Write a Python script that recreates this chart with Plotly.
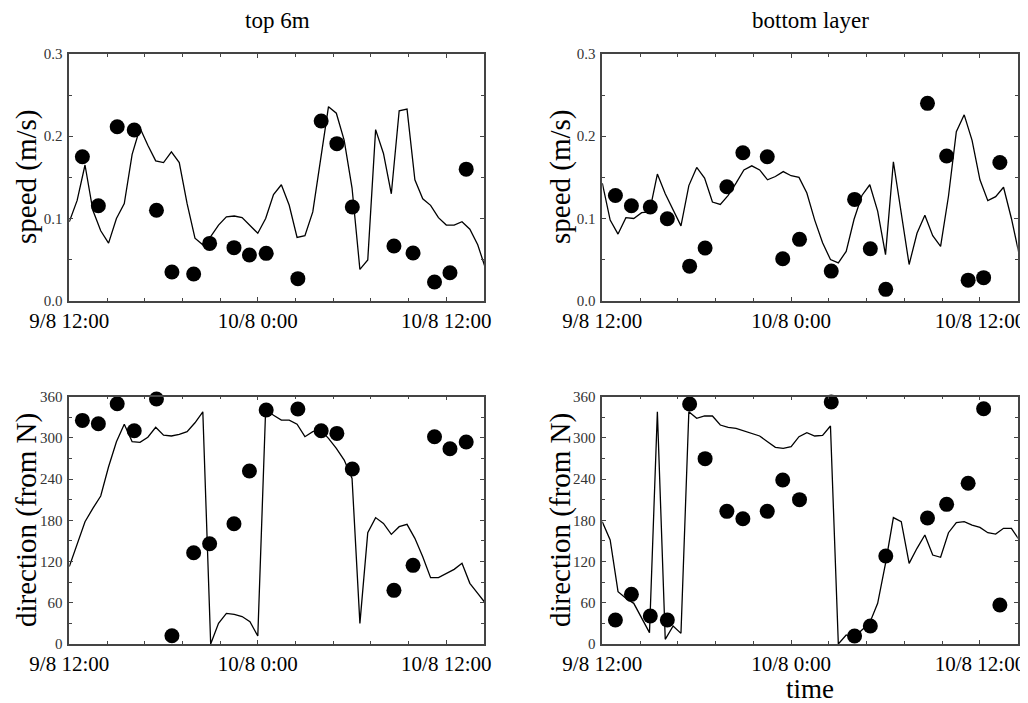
import pandas as pd
import plotly.graph_objects as go

# ---------------- data ----------------
# continuous record (30-min samples starting 9/8 12:00)
line_time = pd.date_range("2004-08-09 12:00", periods=54, freq="30min")

top_speed_line = [0.096, 0.122, 0.165, 0.110, 0.085, 0.070, 0.100, 0.118, 0.178, 0.210,
                  0.189, 0.170, 0.168, 0.181, 0.168, 0.118, 0.076, 0.068, 0.078, 0.092,
                  0.102, 0.103, 0.101, 0.092, 0.082, 0.100, 0.129, 0.141, 0.116, 0.077,
                  0.079, 0.108, 0.171, 0.236, 0.228, 0.195, 0.137, 0.038, 0.0495, 0.208,
                  0.179, 0.130, 0.231, 0.233, 0.147, 0.124, 0.116, 0.101, 0.092, 0.092,
                  0.096, 0.087, 0.068, 0.039]

bot_speed_line = [0.143, 0.098, 0.081, 0.101, 0.100, 0.107, 0.108, 0.154, 0.130, 0.111,
                  0.091, 0.140, 0.162, 0.149, 0.120, 0.117, 0.128, 0.143, 0.159, 0.164,
                  0.159, 0.147, 0.151, 0.157, 0.152, 0.150, 0.131, 0.098, 0.0705, 0.050,
                  0.046, 0.060, 0.099, 0.128, 0.141, 0.109, 0.056, 0.169, 0.106, 0.044,
                  0.082, 0.104, 0.079, 0.066, 0.127, 0.2055, 0.226, 0.195, 0.147, 0.1216,
                  0.1265, 0.138, 0.100, 0.0555]

top_dir_line = [112.6, 146.5, 178, 197.5, 215.4, 258, 294.5, 320, 294.5, 293.5,
                301, 315.4, 304, 302.8, 305, 309, 322, 338, 0, 30,
                44.6, 43, 40, 32.5, 11.6, 341.6, 333, 326, 326, 320,
                301.8, 309, 311.5, 299.4, 284.8, 267.8, 241, 30, 162, 184,
                175.6, 159.6, 170.8, 174.2, 153.8, 127, 96.6, 96.6, 103, 108.7,
                117.4, 88.3, 73.7, 59.2]

bot_dir_line = [178, 151.4, 76.2, 66.5, 59.2, 37.4, 16.5, 338.2, 6.8, 26.2,
                15.5, 338.2, 328.5, 331.9, 331.9, 318.8, 315.4, 314, 310.5, 306.6,
                302.8, 294.5, 286.3, 284.8, 287.2, 301.8, 307.6, 302.8, 303.7, 317.3,
                0, 13.1, 9.7, 20.4, 31, 59.2, 117.4, 184, 178, 117.4,
                139.3, 158.7, 129.5, 126.2, 162, 176.6, 178, 173.2, 169.8, 162,
                160, 168.4, 168.4, 151.4]

# discrete observations
obs_time = ["2004-08-09 12:50", "2004-08-09 13:51", "2004-08-09 15:03", "2004-08-09 16:08",
            "2004-08-09 17:33", "2004-08-09 18:32", "2004-08-09 19:55", "2004-08-09 20:56",
            "2004-08-09 22:29", "2004-08-09 23:28", "2004-08-10 00:32", "2004-08-10 02:33",
            "2004-08-10 04:02", "2004-08-10 05:02", "2004-08-10 06:01", "2004-08-10 08:40",
            "2004-08-10 09:53", "2004-08-10 11:15", "2004-08-10 12:14", "2004-08-10 13:16"]

top_speed_obs = [0.175, 0.1155, 0.2116, 0.2075, 0.110, 0.0349, 0.0324, 0.0697, 0.0645, 0.0555,
                 0.0576, 0.0268, 0.2185, 0.191, 0.114, 0.0665, 0.058, 0.0227, 0.034, 0.160]
bot_speed_obs = [0.128, 0.1155, 0.114, 0.0997, 0.042, 0.064, 0.1386, 0.180, 0.175, 0.051,
                 0.0746, 0.036, 0.1232, 0.0632, 0.0138, 0.240, 0.176, 0.025, 0.028, 0.168]
top_dir_obs = [325.5, 320.7, 349.8, 310.5, 356.6, 12.1, 132.9, 146.0, 175.1, 251.8,
               340.6, 342.0, 310.5, 306.6, 254.7, 78.1, 114.5, 301.8, 284.3, 294.0]
bot_dir_obs = [34.9, 72.3, 40.8, 34.9, 349.3, 269.8, 193.1, 182.4, 193.1, 238.7,
               210.1, 352.2, 11.6, 26.2, 128.1, 183.4, 203.3, 233.9, 342.5, 56.8]

x_tickvals = ["2004-08-09 12:00", "2004-08-10 00:00", "2004-08-10 12:00"]
x_ticktext = ["9/8 12:00", "10/8 0:00", "10/8 12:00"]
x_range = ["2004-08-09 12:00", "2004-08-10 14:24"]

speed_ticks = [0, 0.1, 0.2, 0.3]
speed_ticktext = ["0.0", "0.1", "0.2", "0.3"]
dir_ticks = [0, 60, 120, 180, 240, 300, 360]

col_titles = ["top 6m", "bottom layer"]

# ---------------- figure ----------------
OFF = 8                      # page body margin
W, H = 1028 - OFF, 703 - OFF
SERIF = "Liberation Serif, Times New Roman, serif"
AX = "#444444"


def px(x):
    return (x - OFF) / W


def py(y):
    return 1 - (y - OFF) / H


fig = go.Figure()

panels = [
    ("x", "y", top_speed_line, top_speed_obs),
    ("x2", "y2", bot_speed_line, bot_speed_obs),
    ("x3", "y3", top_dir_line, top_dir_obs),
    ("x4", "y4", bot_dir_line, bot_dir_obs),
]
for xa, ya, ln, ob in panels:
    fig.add_trace(go.Scatter(x=line_time, y=ln, mode="lines",
                             line=dict(color="black", width=1.3),
                             xaxis=xa, yaxis=ya, showlegend=False, cliponaxis=True))
    fig.add_trace(go.Scatter(x=obs_time, y=ob, mode="markers",
                             marker=dict(color="black", size=15, line=dict(width=0)),
                             xaxis=xa, yaxis=ya, showlegend=False, cliponaxis=False))

xdom_l = [px(69.3), px(484)]
xdom_r = [px(602.3), px(1017.7)]
ydom_t = [py(300.7), py(54)]
ydom_b = [py(644), py(396.7)]


def xaxis(dom, anchor):
    return dict(domain=dom, anchor=anchor, type="date", range=x_range, automargin=False,
                tickmode="array", tickvals=x_tickvals, ticktext=x_ticktext,
                ticks="inside", ticklen=4, tickwidth=1, tickcolor=AX,
                showline=True, linecolor=AX, linewidth=1.5, mirror="allticks",
                showgrid=False, zeroline=False, ticklabelstandoff=0,
                tickfont=dict(family=SERIF, size=21, color="black"),
                minor=dict(ticks="inside", ticklen=3, tickcolor=AX,
                           dtick=8640000, tick0="2004-08-09 12:00", showgrid=False))


def yaxis(dom, anchor, kind):
    d = dict(domain=dom, anchor=anchor, automargin=False,
             ticks="inside", ticklen=4, tickwidth=1, tickcolor=AX,
             showline=True, linecolor=AX, linewidth=1.5, mirror="allticks",
             showgrid=False, zeroline=False, ticklabelstandoff=2,
             tickfont=dict(family=SERIF, size=15, color="#333333"))
    if kind == "speed":
        d.update(range=[0, 0.3], tickmode="array", tickvals=speed_ticks, ticktext=speed_ticktext,
                 minor=dict(ticks="inside", ticklen=3, tickcolor=AX, dtick=0.05, showgrid=False))
    else:
        d.update(range=[0, 360], tickmode="array", tickvals=dir_ticks,
                 minor=dict(ticks="inside", ticklen=3, tickcolor=AX, dtick=30, showgrid=False))
    return d


fig.update_layout(
    template="none",
    width=W, height=H, autosize=False,
    margin=dict(l=0, r=0, t=0, b=0, pad=0),
    paper_bgcolor="white", plot_bgcolor="white",
    font=dict(family=SERIF, color="black"),
    xaxis=xaxis(xdom_l, "y"), yaxis=yaxis(ydom_t, "x", "speed"),
    xaxis2=xaxis(xdom_r, "y2"), yaxis2=yaxis(ydom_t, "x2", "speed"),
    xaxis3=xaxis(xdom_l, "y3"), yaxis3=yaxis(ydom_b, "x3", "dir"),
    xaxis4=xaxis(xdom_r, "y4"), yaxis4=yaxis(ydom_b, "x4", "dir"),
)

ann = []
# column titles
for title, cx in zip(col_titles, [277, 810]):
    ann.append(dict(text=title, x=px(cx), y=py(21), xref="paper", yref="paper",
                    xanchor="center", yanchor="middle", showarrow=False,
                    font=dict(family=SERIF, size=23, color="black")))
# y-axis titles
for txt, cx, cy in [("speed (m/s)", 26, 177), ("speed (m/s)", 560, 177),
                    ("direction (from N)", 26, 520), ("direction (from N)", 560, 520)]:
    ann.append(dict(text=txt, x=px(cx), y=py(cy), xref="paper", yref="paper",
                    xanchor="center", yanchor="middle", textangle=-90, showarrow=False,
                    font=dict(family=SERIF, size=29, color="black")))
# x title
ann.append(dict(text="time", x=px(810), y=py(689), xref="paper", yref="paper",
                xanchor="center", yanchor="middle", showarrow=False, borderpad=0,
                font=dict(family=SERIF, size=27, color="black")))
fig.update_layout(annotations=ann)

fig.write_html("out.html")
